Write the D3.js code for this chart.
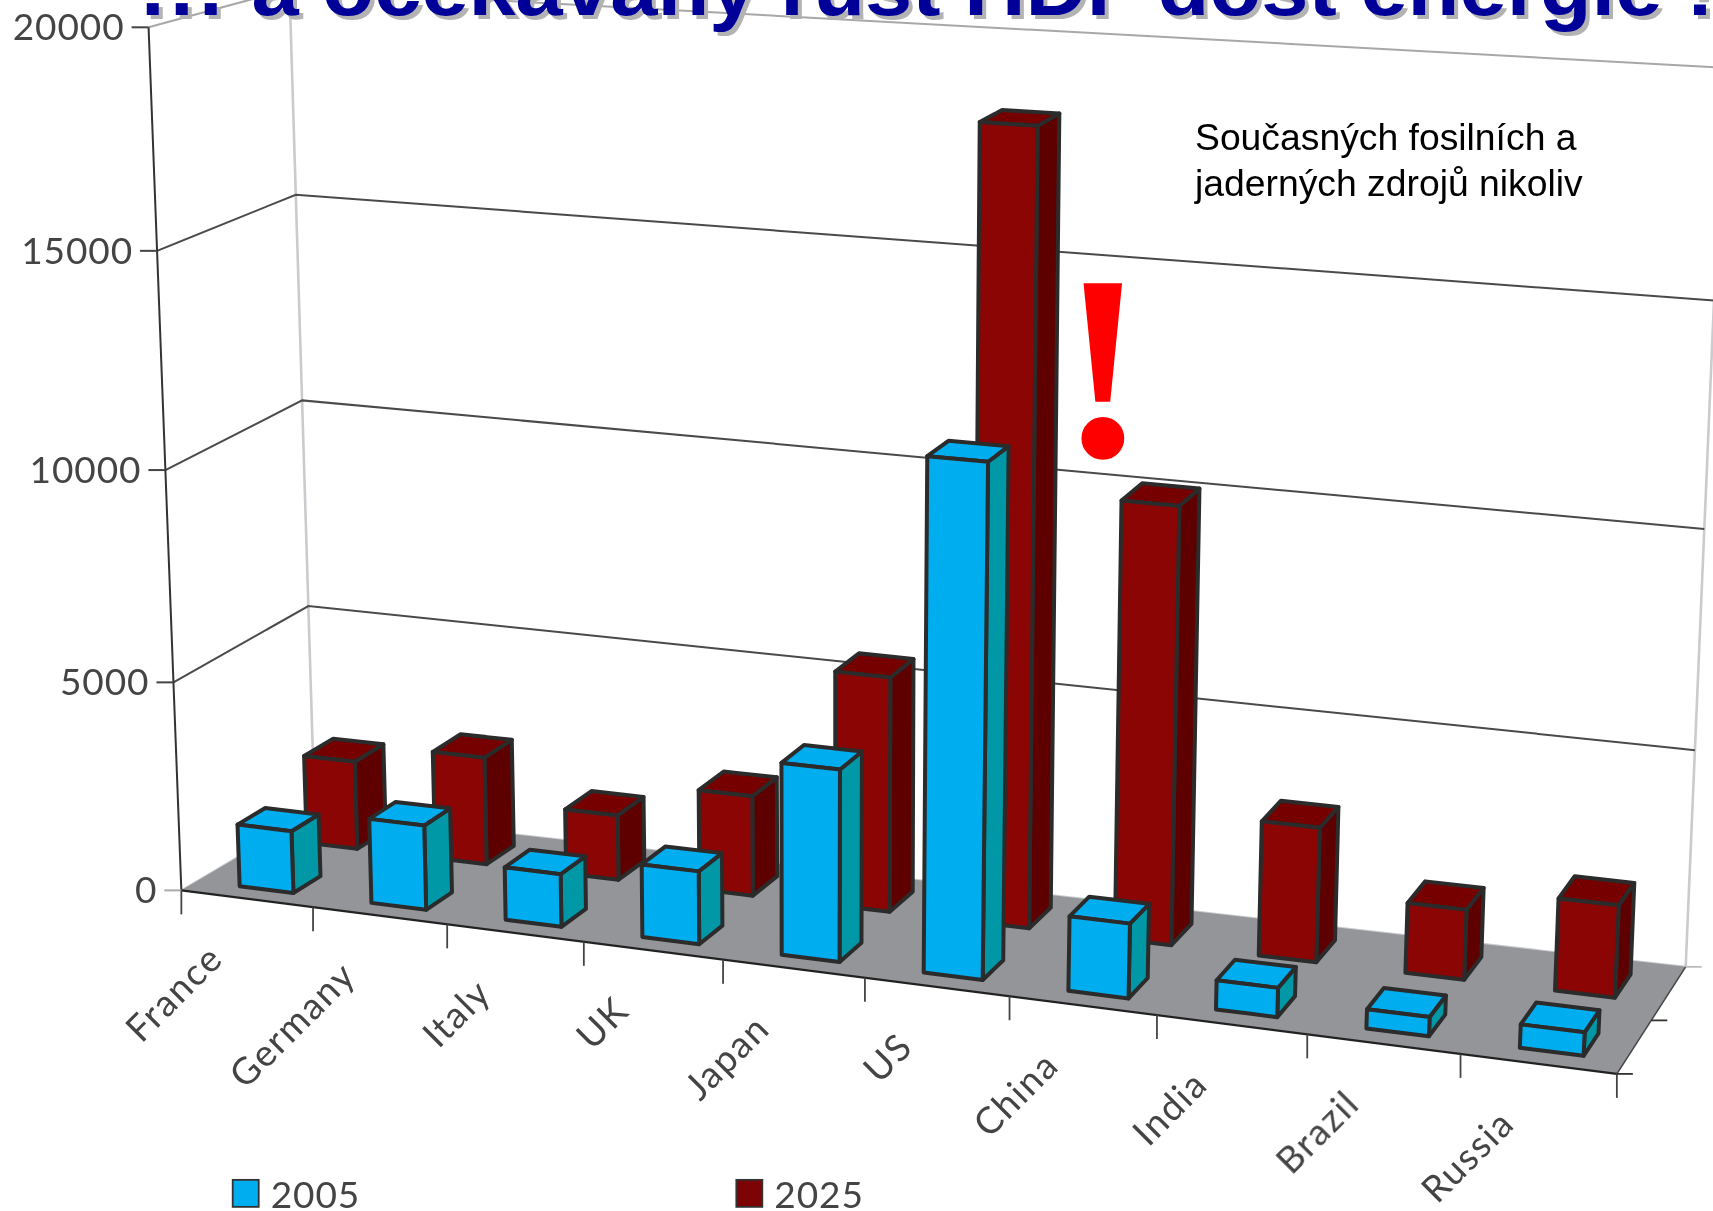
<!DOCTYPE html>
<html>
<head>
<meta charset="utf-8">
<script src="https://cdn.jsdelivr.net/npm/d3@7"></script>
<style>
html,body{margin:0;padding:0;background:#fff;overflow:hidden}
</style>
</head>
<body>
<div id="chart"></div>
<script>
const categories = ["France","Germany","Italy","UK","Japan","US","China","India","Brazil","Russia"];
const values2005 = [1480,2000,1240,1700,4450,11700,1700,660,430,520];
const values2025 = [2100,2550,1530,2350,5500,18300,10100,3100,1600,2100];
const valueTicks = [0,5000,10000,15000,20000];

const w = 1713, h = 1211;
const k = 1713 / 1568; // I measured everything on the 1568 wide view

const svg = d3.select("#chart").append("svg").attr("width", w).attr("height", h);
const chart = svg.append("g").style("filter", "blur(0.6px)"); // the source picture is a soft scan

// corners of the 3d box on screen, u across, d into the page, v up
const corners = {
  flb: [166,815], frb: [1480,983], blb: [288,743], brb: [1543,885],
  flt: [136,25],  frt: [1520,118], blt: [265,-10], brt: [1578,62]
};

// the scales, bent a bit for the perspective. back left corner has even steps
const vScale = d3.scaleLinear().domain(valueTicks).range([0,.241,.487,.741,1]);
const vBackLeft = d3.scaleLinear().domain([0,20000]).range([0,1]);
const uScale = i => { const t = i / categories.length; return t / (t + 1.1 * (1 - t)); };

function mix(a,b,t){ return [a[0]+(b[0]-a[0])*t, a[1]+(b[1]-a[1])*t]; }
function project(i, d, value){
  const u = uScale(i);
  const v = vScale(value) + (vBackLeft(value) - vScale(value)) * d * (1 - u);
  const bottom = mix(mix(corners.flb,corners.frb,u), mix(corners.blb,corners.brb,u), d);
  const top = mix(mix(corners.flt,corners.frt,u), mix(corners.blt,corners.brt,u), d);
  const p = mix(bottom,top,v);
  return [p[0]*k, p[1]*k];
}
const path = d3.line();
const line = (a,b) => path([a,b]);

const ax = chart.append("g");

// back wall verticals
[0,categories.length].forEach(i => {
  ax.append("path").attr("d", line(project(i,1,0), project(i,1,20000)))
    .attr("stroke", "#c9cbce").attr("stroke-width", 2.6).attr("fill","none");
});

// grid lines
valueTicks.forEach(t => {
  const col = t == 20000 ? "#a8a8a8" : t == 0 ? "#c9cbce" : "#4a4a4a";
  ax.append("path").attr("d", path([project(0,0,t), project(0,1,t), project(categories.length,1,t)]))
    .attr("stroke", col).attr("stroke-width", 2).attr("fill","none");
});

// floor
ax.append("path")
  .attr("d", path([project(0,0,0),project(10,0,0),project(10,1,0),project(0,1,0)]) + "Z")
  .attr("fill", "#939598");
ax.append("path").attr("d", line(project(0,0,0), project(10,0,0))).attr("stroke","#222").attr("stroke-width",2.2);
ax.append("path").attr("d", line(project(10,0,0), project(10,1,0))).attr("stroke","#444").attr("stroke-width",1.5);

// front left value axis + ticks
ax.append("path").attr("d", line(project(0,0,0), project(0,0,20000))).attr("stroke","#333").attr("stroke-width",2);
valueTicks.forEach(t => {
  const p = project(0,0,t);
  ax.append("path").attr("d", line([p[0]-17,p[1]],p)).attr("stroke", t == 0 ? "#aaa" : "#444").attr("stroke-width",2);
  ax.append("text").attr("x",p[0]-24).attr("y",p[1]+13)
    .attr("text-anchor","end").attr("font-family","Lato").attr("font-size",37).attr("letter-spacing",.9).attr("fill","#444")
    .text(t);
});

// category ticks
d3.range(categories.length + 1).forEach(i => {
  const p = project(i,0,0);
  ax.append("path").attr("d", line(p,[p[0],p[1]+24])).attr("stroke","#444").attr("stroke-width",1.8);
});
// depth ticks on the right
[0,.5,1].forEach(d => {
  const p = project(10,d,0);
  ax.append("path").attr("d", line(p,[p[0]+16,p[1]])).attr("stroke", d == 1 ? "#bbb" : "#333").attr("stroke-width",1.8);
});

// category labels
categories.forEach((c,i) => {
  const p = project(i+.5,0,0);
  chart.append("text")
    .attr("transform", `translate(${p[0]-22},${p[1]+62}) rotate(-45)`)
    .attr("text-anchor","end").attr("font-family","Lato").attr("font-size",37).attr("letter-spacing",1.6).attr("fill","#444")
    .text(c);
});

// one box, a b are the position inside the category slot, d0 d1 the depth range
function bar(i, value, a, b, d0, d1, col){
  const ua = i + a, ub = i + b;
  const f0 = project(ua,d0,0), f1 = project(ub,d0,0), f2 = project(ub,d0,value), f3 = project(ua,d0,value);
  const b1 = project(ub,d1,0), b2 = project(ub,d1,value), b3 = project(ua,d1,value);
  const g = chart.append("g").attr("stroke","#2b2b2b").attr("stroke-width",4).attr("stroke-linejoin","round");
  g.append("path").attr("d", path([f1,b1,b2,f2])+"Z").attr("fill",col[2]);
  g.append("path").attr("d", path([f3,f2,b2,b3])+"Z").attr("fill",col[1]);
  g.append("path").attr("d", path([f0,f1,f2,f3])+"Z").attr("fill",col[0]);
}
const red = ["#8b0505","#760000","#5e0000"], blue = ["#00aeef","#00aeef","#0097a7"];

values2025.forEach((v,i) => bar(i, v, .295, .69, .66, .88, red));
values2005.forEach((v,i) => bar(i, v, .325, .735, .12, .33, blue));

// legend
[[213,"2005","#00aeef"],[674,"2025","#7d0404"]].forEach(l => {
  chart.append("rect").attr("x",l[0]*k).attr("y",1080*k).attr("width",26).attr("height",27)
    .attr("fill",l[2]).attr("stroke","#333").attr("stroke-width",1.8);
  chart.append("text").attr("x",l[0]*k+38).attr("y",1106*k).attr("font-family","Lato").attr("font-size",37).attr("letter-spacing",.9).attr("fill","#444").text(l[1]);
});

// title, cut at the top of the page like in the source. dots are wider there
[["#b3b3b3",4],["#000099",0]].forEach(s => {
  const t = svg.append("text").attr("transform",`translate(${141+s[1]},${15+s[1]}) scale(1.075,1)`).attr("xml:space","preserve")
    .attr("font-family","Liberation Sans").attr("font-weight","bold").attr("font-size",79).attr("fill",s[0]);
  t.append("tspan").attr("letter-spacing",5).text("...");
  t.append("tspan").text(" a očekávaný růst HDI  dost energie !");
});

// notes
svg.append("text").attr("x",1195).attr("y",150).attr("font-family","Liberation Sans").attr("font-size",37.3).text("Současných fosilních a");
svg.append("text").attr("x",1195).attr("y",196).attr("font-family","Liberation Sans").attr("font-size",37.3).text("jaderných zdrojů nikoliv");
svg.append("text").attr("x",1103).attr("y",456).attr("text-anchor","middle").attr("font-family","Liberation Serif").attr("font-weight","bold")
  .attr("font-size",264).attr("fill","#ff0000").text("!");
</script>
</body>
</html>
